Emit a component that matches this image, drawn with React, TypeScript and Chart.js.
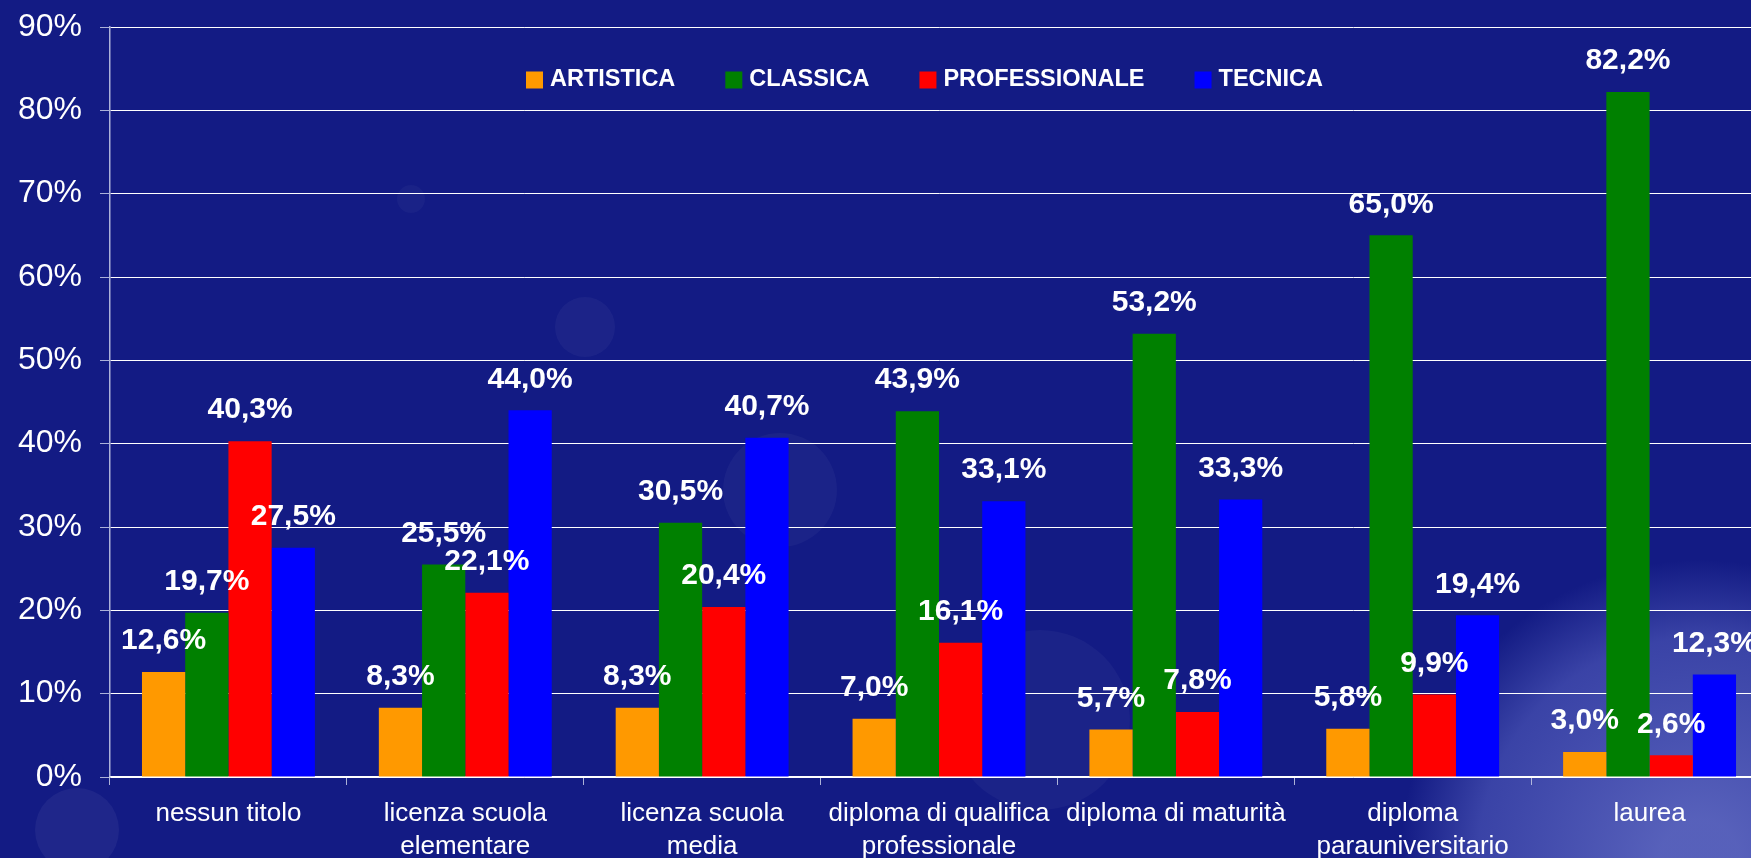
import React, { useEffect, useRef } from "react";
import { Chart, registerables } from "chart.js";

Chart.register(...registerables);

const categories: string[][] = [
  ["nessun titolo"],
  ["licenza scuola", "elementare"],
  ["licenza scuola", "media"],
  ["diploma di qualifica", "professionale"],
  ["diploma di maturità"],
  ["diploma", "parauniversitario"],
  ["laurea"],
];

const seriesNames = ["ARTISTICA", "CLASSICA", "PROFESSIONALE", "TECNICA"];
const artistica = [12.6, 8.3, 8.3, 7.0, 5.7, 5.8, 3.0];
const classica = [19.7, 25.5, 30.5, 43.9, 53.2, 65.0, 82.2];
const professionale = [40.3, 22.1, 20.4, 16.1, 7.8, 9.9, 2.6];
const tecnica = [27.5, 44.0, 40.7, 33.1, 33.3, 19.4, 12.3];
const seriesColors = ["#FF9900", "#008000", "#FF0000", "#0000FF"];

const yMin = 0;
const yMax = 90;
const yStep = 10;

const BG = "#131B84";
const FONT = "'Liberation Sans', Arial, sans-serif";

const fmt = (v: number) => v.toFixed(1).replace(".", ",") + "%";

const backgroundPlugin = {
  id: "bgDecor",
  beforeDraw(chart: any) {
    const ctx = chart.ctx as CanvasRenderingContext2D;
    ctx.save();
    ctx.fillStyle = BG;
    ctx.fillRect(0, 0, chart.width, chart.height);
    const circles: [number, number, number, string][] = [
      [77, 830, 42, "rgba(255,255,255,0.05)"],
      [585, 327, 30, "rgba(255,255,255,0.04)"],
      [411, 199, 14, "rgba(255,255,255,0.03)"],
      [780, 490, 57, "rgba(255,255,255,0.035)"],
      [1040, 720, 90, "rgba(255,255,255,0.035)"],
    ];
    for (const [x, y, r, c] of circles) {
      ctx.beginPath();
      ctx.arc(x, y, r, 0, Math.PI * 2);
      ctx.fillStyle = c;
      ctx.fill();
    }
    const g = ctx.createRadialGradient(1700, 860, 40, 1700, 860, 300);
    g.addColorStop(0, "rgba(110,120,205,0.75)");
    g.addColorStop(0.7, "rgba(90,100,195,0.55)");
    g.addColorStop(1, "rgba(90,100,195,0)");
    ctx.beginPath();
    ctx.arc(1700, 860, 300, 0, Math.PI * 2);
    ctx.fillStyle = g;
    ctx.fill();
    ctx.restore();
  },
};

const labelsPlugin = {
  id: "valueLabels",
  afterDatasetsDraw(chart: any) {
    const ctx = chart.ctx as CanvasRenderingContext2D;
    ctx.save();
    ctx.fillStyle = "#FFFFFF";
    ctx.font = `bold 30px ${FONT}`;
    ctx.textAlign = "center";
    ctx.textBaseline = "middle";
    chart.data.datasets.forEach((ds: any, i: number) => {
      const meta = chart.getDatasetMeta(i);
      meta.data.forEach((el: any, j: number) => {
        ctx.fillText(fmt(ds.data[j]), el.x, el.y - 31);
      });
    });
    ctx.restore();
  },
};

const legendPlugin = {
  id: "customLegend",
  afterDraw(chart: any) {
    const ctx = chart.ctx as CanvasRenderingContext2D;
    ctx.save();
    ctx.font = `bold 23.5px ${FONT}`;
    ctx.textBaseline = "middle";
    ctx.textAlign = "left";
    let x = 526;
    const yc = 80;
    chart.data.datasets.forEach((ds: any) => {
      ctx.fillStyle = ds.backgroundColor;
      ctx.fillRect(x, yc - 8.5, 17, 17);
      ctx.fillStyle = "#FFFFFF";
      ctx.fillText(ds.label, x + 24, yc);
      x += 24 + ctx.measureText(ds.label).width + 50;
    });
    ctx.restore();
  },
};

export default function App() {
  const canvasRef = useRef<HTMLCanvasElement | null>(null);

  useEffect(() => {
    document.body.style.margin = "0";
    document.body.style.background = BG;
    const canvas = canvasRef.current!;
    const values = [artistica, classica, professionale, tecnica];
    const chart = new Chart(canvas, {
      type: "bar",
      data: {
        labels: categories,
        datasets: seriesNames.map((name, i) => ({
          label: name,
          data: values[i],
          backgroundColor: seriesColors[i],
          borderWidth: 0,
          categoryPercentage: 0.73,
          barPercentage: 1.0,
        })),
      },
      options: {
        responsive: false,
        animation: false,
        devicePixelRatio: 1,
        layout: { padding: { top: 27, left: 0, right: 2, bottom: 0 } },
        plugins: {
          legend: { display: false },
          tooltip: { enabled: false },
        },
        scales: {
          x: {
            offset: true,
            grid: {
              offset: true,
              drawOnChartArea: false,
              drawTicks: true,
              tickLength: 8,
              tickColor: "rgba(190,195,225,0.9)",
            },
            border: { display: true, color: "#FFFFFF", width: 1.5 },
            ticks: {
              color: "#FFFFFF",
              font: { family: FONT, size: 26, lineHeight: 1.25 },
              padding: 13,
              maxRotation: 0,
              autoSkip: false,
            },
            afterFit: (s: any) => {
              s.height = 81;
              s.paddingLeft = 0;
              s.paddingRight = 0;
            },
          },
          y: {
            min: yMin,
            max: yMax,
            ticks: {
              stepSize: yStep,
              color: "#FFFFFF",
              font: { family: FONT, size: 32 },
              padding: 18,
              callback: (v: any) => v + "%",
            },
            grid: {
              color: "#FFFFFF",
              lineWidth: 1,
              tickLength: 10,
              tickColor: "rgba(190,195,225,0.9)",
            },
            border: { display: true, color: "rgba(190,195,225,0.9)", width: 1.5 },
            afterFit: (s: any) => {
              s.width = 110;
              s.paddingTop = 0;
              s.paddingBottom = 0;
            },
          },
        },
      },
      plugins: [backgroundPlugin, labelsPlugin, legendPlugin],
    });
    return () => chart.destroy();
  }, []);

  return (
    <div
      style={{
        position: "fixed",
        left: 0,
        top: 0,
        width: 1751,
        height: 858,
        overflow: "hidden",
        background: BG,
      }}
    >
      <canvas ref={canvasRef} width={1770} height={858} style={{ display: "block" }} />
    </div>
  );
}
